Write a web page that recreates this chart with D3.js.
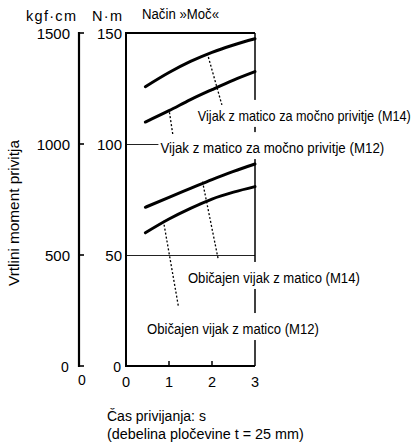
<!DOCTYPE html>
<html><head><meta charset="utf-8">
<script src="https://cdn.jsdelivr.net/npm/d3@7"></script>
<style>body{margin:0;background:#fff}svg{display:block}</style>
</head><body>
<svg id="c" width="417" height="443"></svg>
<script>
// ---- data ----
const timeX = [0.45, 1, 1.5, 2, 2.5, 3];
const strongM14 = [125.8, 132.2, 137.2, 141.3, 144.6, 147.4];
const strongM12 = [109.9, 115.0, 120.0, 124.5, 128.8, 132.6];
const normalM14 = [71.5, 76.0, 80.0, 84.0, 87.7, 91.0];
const normalM12 = [60.0, 66.2, 71.0, 75.2, 78.3, 80.8];
const seriesNames = ["Vijak z matico za močno privitje (M14)", "Vijak z matico za močno privitje (M12)",
                     "Običajen vijak z matico (M14)", "Običajen vijak z matico (M12)"];
// leader lines: [x, N·m] on curve -> [x, N·m] near label
const leaderFrom = [[1.89, 140.9], [1.01, 114.3], [1.78, 83.0], [0.87, 65.4]];
const leaderTo   = [[2.23, 117.6], [1.09, 104.1], [2.14, 48.5], [1.22, 26.7]];
// label anchor [x (s), N·m at baseline]
const labelAt = [[1.67, 110.4], [0.80, 95.9], [1.44, 37.4], [0.49, 14.4]];
const labelLen = [213, 224, 172, 172];
const nmTicks = [0, 50, 100, 150];
const kgfTicks = [0, 500, 1000, 1500];
const xTicks = [0, 1, 2, 3];

const svg = d3.select("#c");
const NARROW = "'Liberation Sans Narrow','Liberation Sans',Arial,sans-serif";
const SANS = "'Liberation Sans',Arial,sans-serif";

// text squeezed horizontally to a target width (via transform, so its box is exact)
function narrowText(parent, str, tx, ty, width, size, rotate) {
  const t = parent.append("text").attr("font-family", NARROW).attr("font-size", size).text(str);
  const w = t.node().getComputedTextLength();
  const k = width / w;
  if (rotate) {
    t.attr("text-anchor", "middle").attr("transform", `translate(${tx},${ty}) rotate(-90) scale(${k},1)`);
  } else {
    t.attr("transform", `translate(${tx},${ty}) scale(${k},1)`);
  }
  return t;
}

const x = d3.scaleLinear().domain([0, 3]).range([126, 255]);
const y = d3.scaleLinear().domain([0, 150]).range([366, 33]);
const yk = d3.scaleLinear().domain([0, 1500]).range([366, 33]);

// gridlines
svg.append("g").selectAll("line").data([50, 100]).join("line")
  .attr("x1", x(0)).attr("x2", x(3)).attr("y1", d => y(d) + 0.5).attr("y2", d => y(d) + 0.5)
  .attr("stroke", "#222").attr("stroke-width", 1).attr("shape-rendering", "crispEdges");

// frame
const frame = svg.append("g").attr("fill", "none").attr("stroke", "#000");
frame.append("line").attr("x1", x(3)).attr("x2", x(3)).attr("y1", y(150)).attr("y2", y(0)).attr("stroke-width", 1.5);
frame.append("line").attr("x1", x(0)).attr("x2", x(3)).attr("y1", y(150)).attr("y2", y(150)).attr("stroke-width", 2);
frame.append("line").attr("x1", x(0)).attr("x2", x(0)).attr("y1", y(150) - 1).attr("y2", y(0) + 1).attr("stroke-width", 2);
frame.append("line").attr("x1", x(0)).attr("x2", x(3)).attr("y1", y(0)).attr("y2", y(0)).attr("stroke-width", 2);
// bottom inner ticks
frame.selectAll(".xt").data(xTicks.filter(d => d > 0 && d < 3)).join("line")
  .attr("x1", d => x(d)).attr("x2", d => x(d)).attr("y1", y(0)).attr("y2", y(0) - 5).attr("stroke-width", 1.5);

// curves
const line = d3.line().x(d => x(d[0])).y(d => y(d[1])).curve(d3.curveMonotoneX);
[strongM14, strongM12, normalM14, normalM12].forEach(s => {
  svg.append("path").datum(timeX.map((t, i) => [t, s[i]])).attr("d", line)
    .attr("fill", "none").attr("stroke", "#000").attr("stroke-width", 3).attr("stroke-linecap", "round");
});

// kgf·cm axis
const axk = svg.append("g");
axk.append("line").attr("x1", 79).attr("x2", 79).attr("y1", yk(1500) - 1).attr("y2", yk(0) + 1)
  .attr("stroke", "#000").attr("stroke-width", 2.2);
axk.selectAll(".kt").data(kgfTicks).join("line")
  .attr("x1", 78).attr("x2", 84).attr("y1", d => yk(d)).attr("y2", d => yk(d))
  .attr("stroke", "#000").attr("stroke-width", 1.6);
axk.selectAll("text").data(kgfTicks.filter(d => d > 0)).join("text")
  .attr("x", 70).attr("y", d => yk(d) + 5.5).attr("text-anchor", "end")
  .attr("font-family", SANS).attr("font-size", 15).text(d => d);
svg.append("text").attr("x", 65).attr("y", 372).attr("text-anchor", "middle")
  .attr("font-family", SANS).attr("font-size", 14).text("0");
svg.append("text").attr("x", 82).attr("y", 385).attr("text-anchor", "middle")
  .attr("font-family", SANS).attr("font-size", 14).text("0");

// N·m tick labels
svg.append("g").selectAll("text").data(nmTicks).join("text")
  .attr("x", d => d === 0 ? 121 : 122).attr("y", d => y(d) + (d === 0 ? 6 : 5.5)).attr("text-anchor", "end")
  .attr("font-family", SANS).attr("font-size", d => d === 0 ? 14 : 15).text(d => d);

// x tick labels
svg.append("g").selectAll("text").data(xTicks).join("text")
  .attr("x", d => x(d)).attr("y", 386.5).attr("text-anchor", "middle")
  .attr("font-family", SANS).attr("font-size", 14.5).text(d => d);

// units + title
svg.append("text").attr("x", 26).attr("y", 21).attr("font-family", SANS).attr("font-size", 14.5)
  .attr("textLength", 50).attr("lengthAdjust", "spacing").text("kgf·cm");
svg.append("text").attr("x", 92).attr("y", 21).attr("font-family", SANS).attr("font-size", 14.5)
  .attr("textLength", 30).attr("lengthAdjust", "spacing").text("N·m");
narrowText(svg, "Način »Moč«", 142, 19, 77, 14.5);

// y title
narrowText(svg, "Vrtlini  moment  privitja", 19, 213, 146, 14.5, true);

// x title
narrowText(svg, "Čas  privijanja:  s", 107, 420.5, 99, 14.5);
narrowText(svg, "(debelina  pločevine  t  =  25  mm)", 107, 439, 197, 14.5);

// series labels with white background
const lab = svg.append("g");
seriesNames.forEach((nm, i) => {
  const lx = x(labelAt[i][0]), ly = y(labelAt[i][1]);
  lab.append("rect").attr("x", lx - 2).attr("y", ly - 21).attr("width", labelLen[i] + 4).attr("height", 27).attr("fill", "#fff");
  narrowText(lab, nm, lx, ly, labelLen[i], 15);
});

// leader lines
svg.append("g").selectAll("line").data(leaderFrom).join("line")
  .attr("x1", d => x(d[0])).attr("y1", d => y(d[1]))
  .attr("x2", (d, i) => x(leaderTo[i][0])).attr("y2", (d, i) => y(leaderTo[i][1]))
  .attr("stroke", "#000").attr("stroke-width", 1.3).attr("stroke-dasharray", "2,2");
</script>
</body></html>
